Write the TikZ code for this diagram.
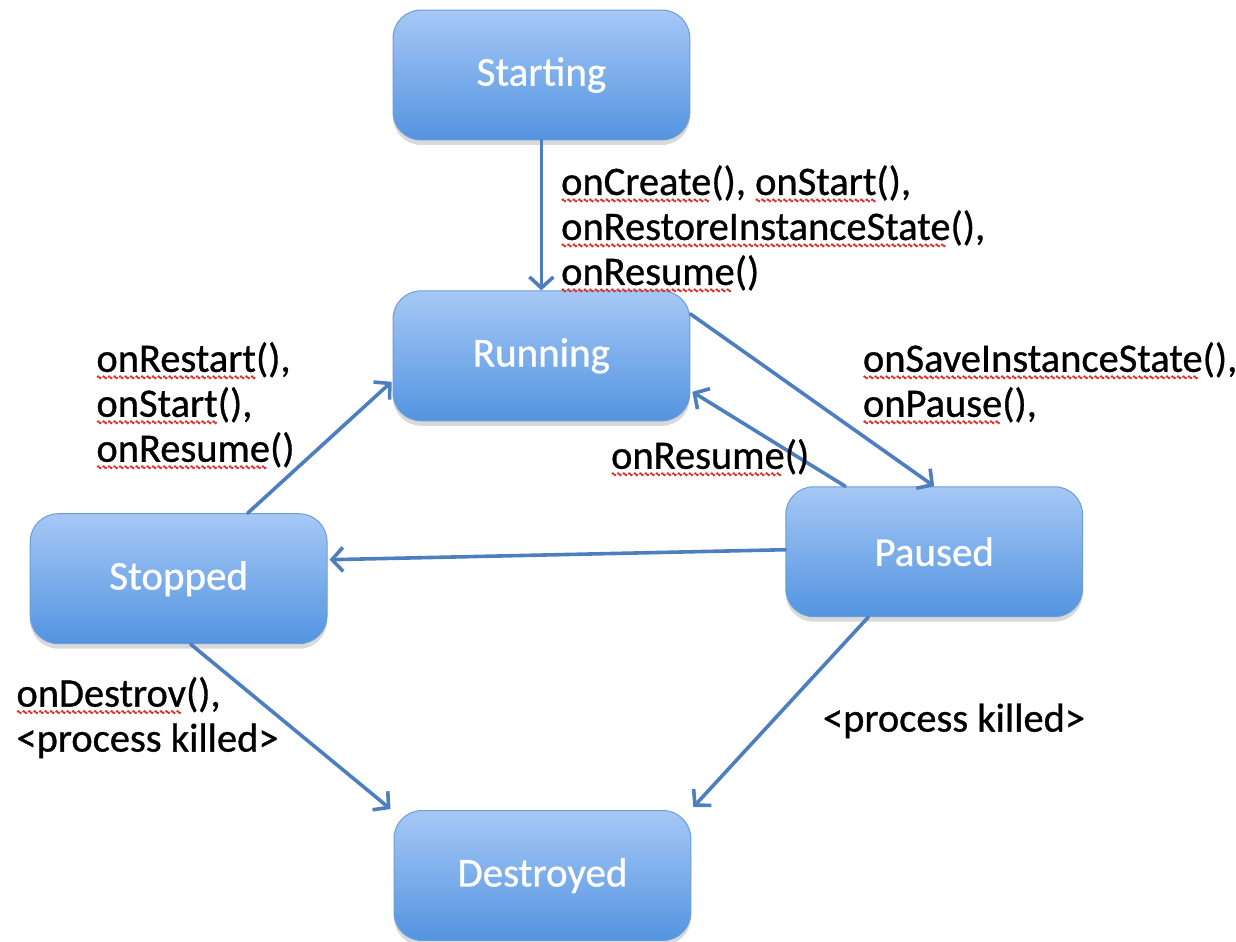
\documentclass[tikz,border=0pt]{standalone}
\usepackage{fontspec}
\setmainfont[FakeBold=0.8]{Carlito}
\usetikzlibrary{arrows.meta,shadows,calc}

\definecolor{linkblue}{HTML}{4D7EBF}
\definecolor{boxtop}{HTML}{A6C8F6}
\definecolor{boxbot}{HTML}{5394E0}
\definecolor{boxline}{HTML}{6C9DD8}
\definecolor{spellred}{HTML}{E0302A}

% one period of the red wavy spell-check underline, repeated by \spell
\newsavebox\wavebox
\newcommand\makewave{\sbox\wavebox{\begin{pgfpicture}%
  \pgfpathmoveto{\pgfpoint{0pt}{0pt}}%
  \pgfpathlineto{\pgfpoint{1pt}{1.3pt}}%
  \pgfpathlineto{\pgfpoint{3pt}{-1.3pt}}%
  \pgfpathlineto{\pgfpoint{4pt}{0pt}}%
  \pgfsetlinewidth{1.5pt}\pgfsetroundjoin
  \pgfsetstrokecolor{spellred}\pgfusepath{stroke}%
  \pgfpathrectangle{\pgfpoint{0pt}{-1.3pt}}{\pgfpoint{4pt}{2.6pt}}%
  \pgfusepath{use as bounding box}%
  \pgfsetbaseline{0pt}%
  \end{pgfpicture}}}
\newcommand\spell[1]{\setbox0\hbox{#1}%
  \rlap{\lower5.5pt\hbox to\wd0{\leaders\copy\wavebox\hfill}}\box0}

\tikzset{
  state/.style={draw=boxline, line width=1pt, rounded corners=28pt,
    top color=boxtop, bottom color=boxbot,
    minimum width=297pt, minimum height=130pt,
    text=white, font=\fontsize{41}{45}\selectfont,
    drop shadow={shadow xshift=0pt, shadow yshift=-5pt, opacity=0.25, fill=black!60}},
  link/.style={draw=linkblue, line width=3.6pt, line cap=round,
    -{Straight Barb[length=11pt,width=24pt,line width=3.6pt]}},
  note/.style={anchor=base west, inner sep=0pt, align=left,
    font=\fontsize{40.5}{45}\selectfont, text=black}
}

\begin{document}
\begin{tikzpicture}[x=1pt,y=-1pt]
\makewave
\useasboundingbox (0,0) rectangle (1236,940);

% states
\node[state] (start) at (541,73)  {Starting};
\node[state] (run)   at (541,354) {Running};
\node[state] (pause) at (934,550) {Paused};
\node[state] (stop)  at (178,577) {Stopped};
\node[state] (dest)  at (542,874) {Destroyed};

% transitions
\draw[link] (start.south) -- (run.north);
\draw[link] ($(run.east)+(0,-42)$) -- (pause.north);
\draw[link] ($(pause.north)+(-89,0)$) -- ($(run.east)+(2,36)$);
\draw[link] ($(pause.west)+(0,-2)$) -- ($(stop.east)+(2,-19)$);
\draw[link] ($(stop.north)+(69,0)$) -- ($(run.west)+(-1,26)$);
\draw[link] ($(stop.south)+(12,0)$) -- ($(dest.north west)+(-3,-1)$);
\draw[link] ($(pause.south)+(-66,0)$) -- ($(dest.north east)+(2,-3)$);

% transition labels (anchored at the baseline of their last line)
\node[note] (lcreate) at (560,283)
  {\spell{onCreate}(), \spell{onStart}(),\\\spell{onRestoreInstanceState}(),\\\spell{onResume}()};
\node[note] (lrestart) at (95,460)
  {\spell{onRestart}(),\\\spell{onStart}(),\\\spell{onResume}()};
\node[note] (lsave) at (862,415)
  {\spell{onSaveInstanceState}(),\\\spell{onPause}(),};
\node[note] (lresume) at (610,467) {\spell{onResume}()};
\node[note] (ldestroy) at (15,750)
  {\spell{onDestrov}(),\\<process killed>};
\node[note] (lkill) at (822,730) {<process killed>};
\end{tikzpicture}
\end{document}
